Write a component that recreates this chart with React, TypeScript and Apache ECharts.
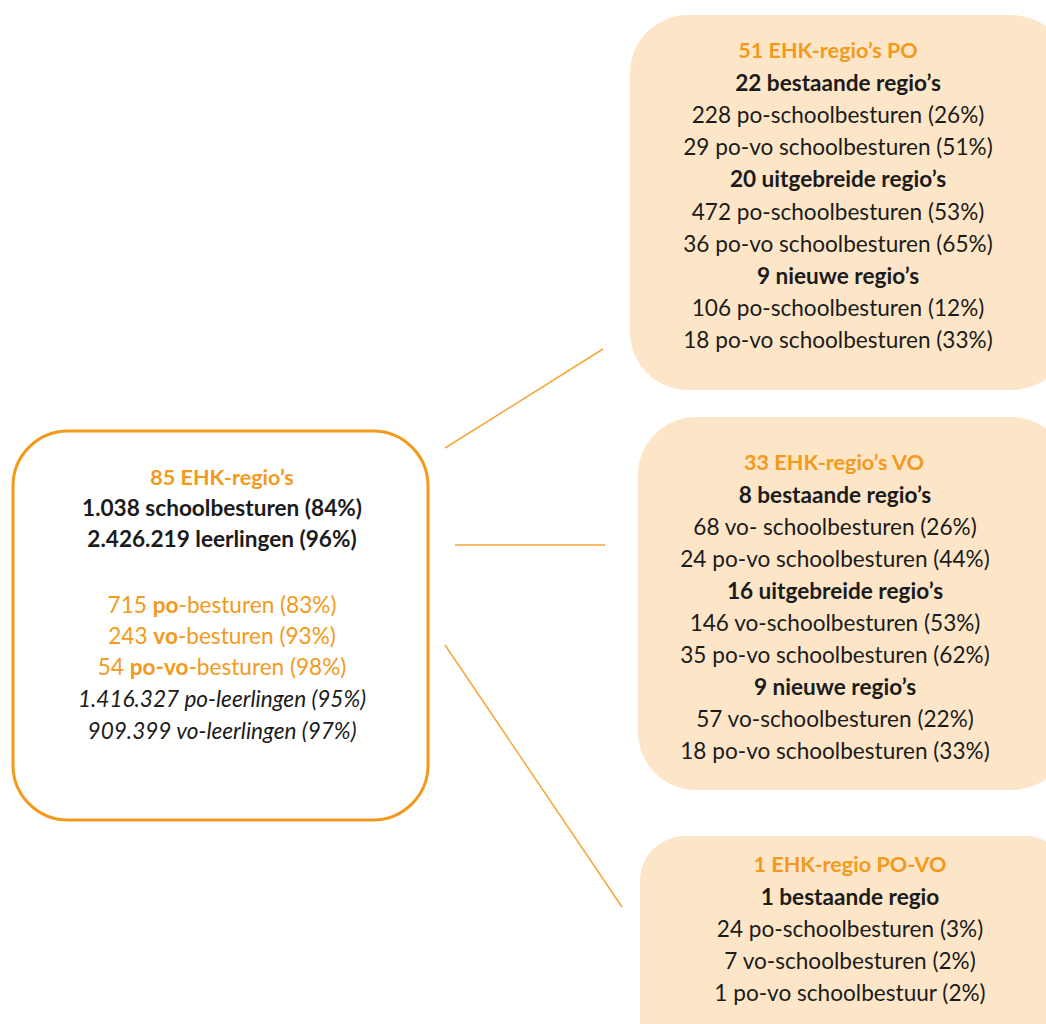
import React, { useEffect, useRef } from "react";
import * as echarts from "echarts";

const ORANGE = "#F39A1C";
const PEACH = "#FDE6C8";
const DARK = "#1b1b1b";

const summaryTitle = "85 EHK-regio’s";
const summaryBold = ["1.038 schoolbesturen (84%)", "2.426.219 leerlingen (96%)"];
const summarySectors = [
  ["715 ", "po", "-besturen (83%)"],
  ["243 ", "vo", "-besturen (93%)"],
  ["54 ", "po-vo", "-besturen (98%)"],
];
const summaryPupils = ["1.416.327 po-leerlingen (95%)", "909.399 vo-leerlingen (97%)"];

const poTitle = "51 EHK-regio’s PO";
const poLines = [
  ["b", "22 bestaande regio’s"],
  ["n", "228 po-schoolbesturen (26%)"],
  ["n", "29 po-vo schoolbesturen (51%)"],
  ["b", "20 uitgebreide regio’s"],
  ["n", "472 po-schoolbesturen (53%)"],
  ["n", "36 po-vo schoolbesturen (65%)"],
  ["b", "9 nieuwe regio’s"],
  ["n", "106 po-schoolbesturen (12%)"],
  ["n", "18 po-vo schoolbesturen (33%)"],
];

const voTitle = "33 EHK-regio’s VO";
const voLines = [
  ["b", "8 bestaande regio’s"],
  ["n", "68 vo- schoolbesturen (26%)"],
  ["n", "24 po-vo schoolbesturen (44%)"],
  ["b", "16 uitgebreide regio’s"],
  ["n", "146 vo-schoolbesturen (53%)"],
  ["n", "35 po-vo schoolbesturen (62%)"],
  ["b", "9 nieuwe regio’s"],
  ["n", "57 vo-schoolbesturen (22%)"],
  ["n", "18 po-vo schoolbesturen (33%)"],
];

const povoTitle = "1 EHK-regio PO-VO";
const povoLines = [
  ["b", "1 bestaande regio"],
  ["n", "24 po-schoolbesturen (3%)"],
  ["n", "7 vo-schoolbesturen (2%)"],
  ["n", "1 po-vo schoolbestuur (2%)"],
];

const FONT = "Lato";
const FS = 22.6;

function txt(x: number, y: number, text: string, opts: any = {}) {
  return {
    type: "text",
    x,
    y,
    style: {
      text,
      x: 0,
      y: 0,
      align: "center",
      verticalAlign: "middle",
      fontFamily: FONT,
      fontSize: FS,
      fill: DARK,
      ...opts,
    },
  };
}

function boxTexts(cx: number, titleX: number, y0: number, step: number, title: string, lines: string[][]) {
  const els: any[] = [txt(titleX, y0, title, { fill: ORANGE, fontWeight: "bold", fontSize: FS - 1 })];
  lines.forEach((l, i) => {
    els.push(txt(cx, y0 + step * (i + 1), l[1], { fontWeight: l[0] === "b" ? "bold" : "normal" }));
  });
  return els;
}

export default function App() {
  const ref = useRef<HTMLDivElement>(null);
  useEffect(() => {
    const chart = echarts.init(ref.current!, null, { renderer: "svg" });
    const graphic: any[] = [];
    graphic.push({ type: "rect", shape: { x: 630, y: 15, width: 440, height: 375, r: 58 }, style: { fill: PEACH } });
    graphic.push({ type: "rect", shape: { x: 638, y: 417, width: 432, height: 373, r: 58 }, style: { fill: PEACH } });
    graphic.push({ type: "rect", shape: { x: 640, y: 836, width: 430, height: 230, r: 45 }, style: { fill: PEACH } });
    graphic.push({
      type: "rect",
      shape: { x: 13, y: 431, width: 415, height: 389, r: 55 },
      style: { fill: "#ffffff", stroke: ORANGE, lineWidth: 3 },
    });
    const ls = { stroke: "#F5A637", lineWidth: 1.5 };
    graphic.push({ type: "line", shape: { x1: 445, y1: 448, x2: 603, y2: 349 }, style: ls });
    graphic.push({ type: "line", shape: { x1: 455, y1: 545, x2: 605, y2: 545 }, style: ls });
    graphic.push({ type: "line", shape: { x1: 445, y1: 645, x2: 622, y2: 907 }, style: ls });

    const lcx = 222;
    graphic.push(txt(lcx, 477, summaryTitle, { fill: ORANGE, fontWeight: "bold", fontSize: FS - 1 }));
    summaryBold.forEach((s, i) => graphic.push(txt(lcx, 507 + 31 * i, s, { fontWeight: "bold" })));
    summarySectors.forEach((p, i) =>
      graphic.push({
        type: "text",
        x: lcx,
        y: 604 + 31 * i,
        style: {
          text: `{n|${p[0]}}{b|${p[1]}}{n|${p[2]}}`,
          align: "center",
          verticalAlign: "middle",
          fontFamily: FONT,
          fontSize: FS,
          fill: ORANGE,
          rich: {
            n: { fontFamily: FONT, fontSize: FS, fill: ORANGE, color: ORANGE },
            b: { fontFamily: FONT, fontSize: FS, fill: ORANGE, color: ORANGE, fontWeight: "bold" },
          },
        },
      })
    );
    summaryPupils.forEach((s, i) => graphic.push(txt(lcx, 698 + 32 * i, s, { fontStyle: "italic" })));

    graphic.push(...boxTexts(838, 828, 50, 32.2, poTitle, poLines));
    graphic.push(...boxTexts(835, 834, 462, 32, voTitle, voLines));
    graphic.push(...boxTexts(850, 850, 864, 32.2, povoTitle, povoLines));

    chart.setOption({ animation: false, graphic });
    return () => chart.dispose();
  }, []);
  return (
    <div
      ref={ref}
      style={{ position: "fixed", left: 0, top: 0, width: 1046, height: 1024, background: "#fff" }}
    />
  );
}
